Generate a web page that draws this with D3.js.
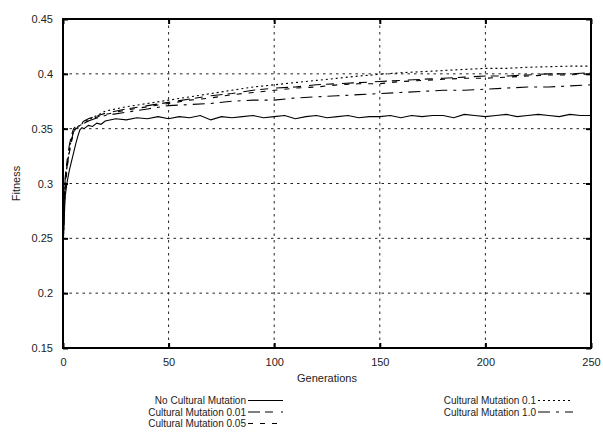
<!DOCTYPE html>
<html>
<head>
<meta charset="utf-8">
<script src="https://cdn.jsdelivr.net/npm/d3@7"></script>
<style>
  body { margin: 0; background: #fff; }
  svg { display: block; font-family: "Liberation Sans", Arial, sans-serif; }
  .grid line { stroke: #222; stroke-width: 1; stroke-dasharray: 2.5,4; }
  .series { fill: none; stroke: #000; stroke-width: 1.1; }
  .tick text { font-size: 11px; fill: #222; }
</style>
</head>
<body>
<svg id="chart" width="603" height="433"></svg>
<script>
// generations sampled for the solid (noisy) series
const gensFine = [0, 1, 2, 3, 4, 5, 6, 7, 8, 9, 10, 12, 14, 16, 18,
  20, 25, 30, 35, 40, 45, 50, 55, 60, 65, 70, 75, 80, 85, 90, 95, 100,
  105, 110, 115, 120, 125, 130, 135, 140, 145, 150, 155, 160, 165, 170,
  175, 180, 185, 190, 195, 200, 205, 210, 215, 220, 225, 230, 235, 240, 245, 250];

// generations sampled for the smoother series
const gensCoarse = [0, 1, 2, 3, 4, 5, 6, 8, 10, 12, 15, 20, 30, 40, 50, 60, 70,
  80, 90, 100, 110, 120, 130, 140, 150, 160, 170, 180, 190, 200, 210, 220, 230, 240, 250];

const noMutation = [0.24, 0.288, 0.302, 0.312, 0.320, 0.328, 0.336, 0.343, 0.349, 0.351, 0.350,
  0.353, 0.352, 0.355, 0.354,
  0.357, 0.359, 0.358, 0.360, 0.359, 0.361, 0.359, 0.361, 0.360, 0.362, 0.358, 0.361, 0.360,
  0.361, 0.362, 0.360, 0.361, 0.362, 0.359, 0.361, 0.362, 0.360, 0.361, 0.362, 0.360, 0.361,
  0.361, 0.362, 0.360, 0.362, 0.361, 0.362, 0.362, 0.360, 0.363, 0.362, 0.361, 0.362, 0.363,
  0.361, 0.362, 0.363, 0.362, 0.361, 0.363, 0.362, 0.362];

const mut001 = [0.24, 0.305, 0.322, 0.335, 0.344, 0.350, 0.352, 0.354, 0.357, 0.359, 0.361, 0.364,
  0.368, 0.371, 0.374, 0.377, 0.380, 0.382, 0.385, 0.387, 0.388, 0.390, 0.391, 0.392, 0.393,
  0.394, 0.395, 0.396, 0.397, 0.398, 0.398, 0.399, 0.400, 0.400, 0.401];

const mut005 = [0.24, 0.295, 0.315, 0.328, 0.338, 0.346, 0.350, 0.352, 0.355, 0.357, 0.360, 0.363,
  0.367, 0.370, 0.373, 0.376, 0.378, 0.381, 0.383, 0.385, 0.387, 0.388, 0.390, 0.391, 0.391,
  0.393, 0.394, 0.395, 0.396, 0.396, 0.397, 0.398, 0.399, 0.399, 0.400];

const mut01 = [0.24, 0.300, 0.318, 0.330, 0.341, 0.348, 0.351, 0.353, 0.356, 0.358, 0.361, 0.366,
  0.370, 0.373, 0.376, 0.379, 0.382, 0.385, 0.388, 0.390, 0.392, 0.394, 0.396, 0.398, 0.3995,
  0.401, 0.402, 0.403, 0.404, 0.405, 0.405, 0.406, 0.4065, 0.407, 0.407];

const mut10 = [0.24, 0.300, 0.317, 0.330, 0.340, 0.347, 0.350, 0.353, 0.355, 0.357, 0.359, 0.362,
  0.365, 0.368, 0.371, 0.372, 0.373, 0.375, 0.376, 0.376, 0.378, 0.379, 0.380, 0.381, 0.382,
  0.383, 0.384, 0.385, 0.385, 0.386, 0.387, 0.388, 0.388, 0.389, 0.390];

const xTicks = [0, 50, 100, 150, 200, 250];
const yTicks = [0.15, 0.2, 0.25, 0.3, 0.35, 0.4, 0.45];

const series = [
  { name: "No Cultural Mutation", gens: gensFine, values: noMutation, dash: null },
  { name: "Cultural Mutation 0.01", gens: gensCoarse, values: mut001, dash: "12,5,8,8" },
  { name: "Cultural Mutation 0.05", gens: gensCoarse, values: mut005, dash: "5,7" },
  { name: "Cultural Mutation 0.1", gens: gensCoarse, values: mut01, dash: "2,3" },
  { name: "Cultural Mutation 1.0", gens: gensCoarse, values: mut10, dash: "12,6,3,6" }
];

const margin = { top: 19, right: 12, bottom: 85, left: 63 },
  width = 603 - margin.left - margin.right,
  height = 433 - margin.top - margin.bottom;

const svg = d3.select("#chart");
const graph = svg.append("g")
  .attr("transform", `translate(${margin.left}, ${margin.top})`);

const x = d3.scaleLinear().domain([0, 250]).range([0, width]);
const y = d3.scaleLinear().domain([0.15, 0.45]).range([height, 0]);

// grid
graph.append("g").attr("class", "grid")
  .selectAll("line").data(xTicks.slice(1, -1)).join("line")
  .attr("x1", d => x(d)).attr("x2", d => x(d))
  .attr("y1", 0).attr("y2", height);
graph.append("g").attr("class", "grid")
  .selectAll("line").data(yTicks.slice(1, -1)).join("line")
  .attr("x1", 0).attr("x2", width)
  .attr("y1", d => y(d)).attr("y2", d => y(d));

// lines
const valueLine = (gens) => d3.line()
  .x((d, i) => x(gens[i]))
  .y(d => y(d));

series.forEach(s => {
  graph.append("path")
    .datum(s.values)
    .attr("class", "series")
    .attr("stroke-dasharray", s.dash)
    .attr("d", valueLine(s.gens));
});

// axes, ticks pointing inward
const styleAxis = g => {
  g.select(".domain").remove();
  g.selectAll(".tick line").attr("stroke", "#000").attr("stroke-width", 2);
};

graph.append("g")
  .attr("transform", `translate(0, ${height})`)
  .call(d3.axisBottom(x).tickValues(xTicks).tickSizeInner(-5).tickSizeOuter(0).tickPadding(10))
  .call(styleAxis);
graph.append("g")
  .call(d3.axisTop(x).tickValues(xTicks).tickSizeInner(-5).tickSizeOuter(0).tickFormat(""))
  .call(styleAxis);
graph.append("g")
  .call(d3.axisLeft(y).tickValues(yTicks).tickSizeInner(-5).tickSizeOuter(0).tickPadding(10)
    .tickFormat(d3.format("")))
  .call(styleAxis);
graph.append("g")
  .attr("transform", `translate(${width}, 0)`)
  .call(d3.axisRight(y).tickValues(yTicks).tickSizeInner(-5).tickSizeOuter(0).tickFormat(""))
  .call(styleAxis);

// frame
graph.append("rect")
  .attr("width", width).attr("height", height)
  .attr("fill", "none").attr("stroke", "#000").attr("stroke-width", 2);

// axis titles
svg.append("text")
  .attr("x", margin.left + width / 2).attr("y", margin.top + height + 34)
  .attr("text-anchor", "middle").attr("font-size", 11).attr("fill", "#222")
  .text("Generations");
svg.append("text")
  .attr("transform", `translate(20, ${margin.top + height / 2}) rotate(-90)`)
  .attr("text-anchor", "middle").attr("font-size", 11).attr("fill", "#222")
  .text("Fitness");

// legend, two columns
const legendPos = [
  { x: 246, y: 404 }, { x: 246, y: 415.5 }, { x: 246, y: 427 },
  { x: 536, y: 404 }, { x: 536, y: 415.5 }
];
series.forEach((s, i) => {
  const p = legendPos[i];
  svg.append("text")
    .attr("x", p.x).attr("y", p.y)
    .attr("text-anchor", "end").attr("font-size", 10).attr("fill", "#222")
    .text(s.name);
  svg.append("line")
    .attr("x1", p.x + 2).attr("x2", p.x + 37)
    .attr("y1", p.y - 3.5).attr("y2", p.y - 3.5)
    .attr("stroke", "#000").attr("stroke-width", 1.1)
    .attr("stroke-dasharray", s.dash);
});
</script>
</body>
</html>
